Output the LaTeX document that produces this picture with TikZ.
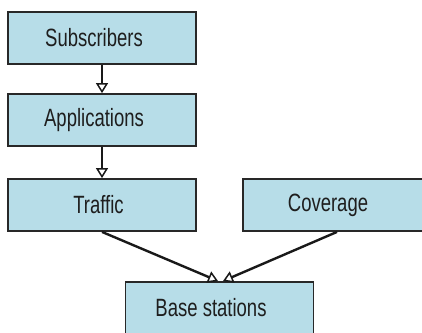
\documentclass[tikz,border=0pt]{standalone}
\usepackage{fontspec}
\setmainfont{Liberation Sans}[FakeStretch=0.74]
\usetikzlibrary{arrows.meta}
\definecolor{boxfill}{RGB}{183,221,232}
\definecolor{boxline}{RGB}{40,40,40}
\definecolor{txt}{RGB}{30,30,30}
\tikzset{
  box/.style={draw=boxline, line width=1.8pt, fill=boxfill, minimum width=188pt,
    minimum height=52pt, inner sep=0pt, text=txt, font=\fontsize{25}{28}\selectfont},
  flow/.style={line width=2.4pt, draw=black!90,
    -{Triangle[length=10pt, width=12pt, line width=1.5pt, fill=white]}}
}
\begin{document}
\begin{tikzpicture}[x=1pt, y=1pt]
  \useasboundingbox (0,0) rectangle (422,-332);
  \clip (0,0) rectangle (422,-332);
  \node[box] (sub)  at (102,-38)    {Subscribers\kern16pt};
  \node[box] (app)  at (102,-120)   {Applications\kern16pt};
  \node[box] (traf) at (102,-205)   {Traffic\kern7pt};
  \node[box] (cov)  at (337,-205)   {Coverage\kern18pt};
  \node[box] (base) at (219.5,-308) {Base stations\kern17pt};
  % arrow ends on top of the base-station box
  \coordinate (inL) at (218,-281);
  \coordinate (inR) at (223,-281);
  \draw[flow] (sub.south) -- (app.north);
  \draw[flow] (app.south) -- (traf.north);
  \draw[flow] (traf.south) -- (inL);
  \draw[flow] (cov.south) -- (inR);
\end{tikzpicture}
\end{document}
